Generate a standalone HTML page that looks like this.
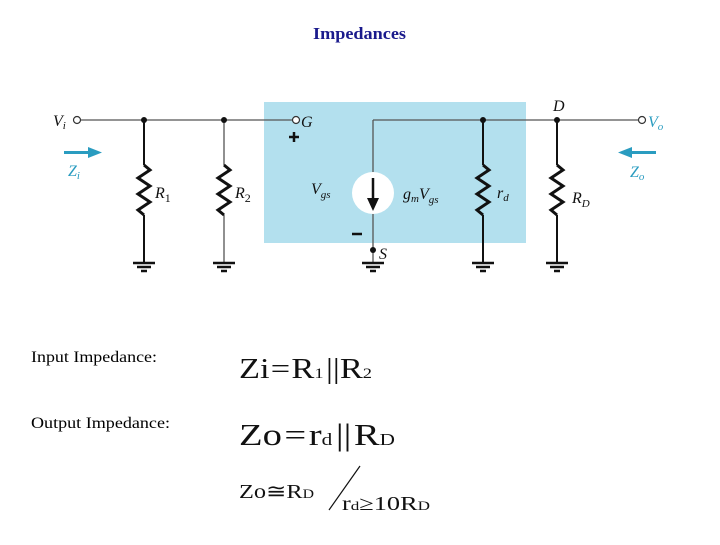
<!DOCTYPE html>
<html><head><style>
body{margin:0;background:#fff;width:720px;height:540px;overflow:hidden;font-family:"Liberation Serif",serif;}
</style></head><body>
<svg width="720" height="540" xmlns="http://www.w3.org/2000/svg" font-family="Liberation Serif, serif">
<text x="313" y="39" font-size="17" font-weight="bold" fill="#1a1a8c" textLength="93" lengthAdjust="spacingAndGlyphs">Impedances</text>
<rect x="264" y="102" width="262" height="141" fill="#b3e0ee"/>
<g stroke="#555" stroke-width="1.3" fill="none">
<line x1="81" y1="120" x2="292" y2="120"/>
<line x1="373" y1="120" x2="638" y2="120"/>
<line x1="373" y1="120" x2="373" y2="173"/>
<line x1="373" y1="213" x2="373" y2="262"/>
<line x1="224" y1="120" x2="224" y2="165"/><line x1="224" y1="215" x2="224" y2="262"/>
</g>
<g stroke="#111" stroke-width="2" fill="none">
<line x1="144" y1="120" x2="144" y2="165"/><line x1="144" y1="215" x2="144" y2="262"/>
<line x1="483" y1="120" x2="483" y2="165"/><line x1="483" y1="215" x2="483" y2="262"/>
<line x1="557" y1="120" x2="557" y2="165"/><line x1="557" y1="215" x2="557" y2="262"/>
<g stroke-width="3">
<polyline points="144,165 150,170 138,178 150,186 138,194 150,202 138,210 144,215"/>
<polyline points="224,165 230,170 218,178 230,186 218,194 230,202 218,210 224,215"/>
<polyline points="483,165 489,170 477,178 489,186 477,194 489,202 477,210 483,215"/>
<polyline points="557,165 563,170 551,178 563,186 551,194 563,202 551,210 557,215"/>
</g>
</g>
<g stroke="#111" stroke-width="2.5">
<g id="gnd"><line x1="133" y1="263" x2="155" y2="263"/><line x1="137" y1="267" x2="151" y2="267"/><line x1="141" y1="271" x2="147" y2="271"/></g>
<use href="#gnd" x="80"/><use href="#gnd" x="229"/><use href="#gnd" x="339"/><use href="#gnd" x="413"/>
</g>
<g fill="#111"><circle cx="144" cy="120" r="3"/><circle cx="224" cy="120" r="3"/><circle cx="483" cy="120" r="3"/><circle cx="557" cy="120" r="3"/><circle cx="373" cy="250" r="3"/></g>
<g fill="#fff" stroke="#333" stroke-width="1.2"><circle cx="77" cy="120" r="3.5"/><circle cx="296" cy="120" r="3.5"/><circle cx="642" cy="120" r="3.5"/></g>
<circle cx="373" cy="193" r="21" fill="#fff"/>
<line x1="373" y1="178" x2="373" y2="200" stroke="#111" stroke-width="2.5"/>
<polygon points="367,198 379,198 373,211" fill="#111"/>
<g stroke="#111" stroke-width="2.5"><line x1="289" y1="137" x2="299" y2="137"/><line x1="294" y1="132" x2="294" y2="142"/><line x1="352" y1="234" x2="362" y2="234"/></g>
<g font-style="italic" font-size="16" fill="#111">
<text x="53" y="126">V<tspan font-size="11" dy="3">i</tspan></text>
<text x="301" y="127">G</text>
<text x="553" y="111">D</text>
<text x="379" y="259">S</text>
<text x="155" y="198">R<tspan font-style="normal" font-size="12" dy="4">1</tspan></text>
<text x="235" y="198">R<tspan font-style="normal" font-size="12" dy="4">2</tspan></text>
<text x="311" y="194">V<tspan font-size="11" dy="4">gs</tspan></text>
<text x="403" y="199">g<tspan font-size="11" dy="3">m</tspan><tspan dy="-3">V</tspan><tspan font-size="11" dy="4">gs</tspan></text>
<text x="497" y="198">r<tspan font-size="11" dy="3">d</tspan></text>
<text x="572" y="203">R<tspan font-size="11" dy="4">D</tspan></text>
</g>
<g fill="#2a9cc0" font-style="italic" font-size="16">
<text x="648" y="127">V<tspan font-size="11" dy="3">o</tspan></text>
<text x="68" y="176">Z<tspan font-size="11" dy="3">i</tspan></text>
<text x="630" y="177">Z<tspan font-size="11" dy="3">o</tspan></text>
</g>
<g fill="#2a9cc0"><rect x="64" y="151" width="25" height="3"/><polygon points="88,147 102,152.5 88,158"/>
<rect x="630" y="151" width="26" height="3"/><polygon points="632,147 618,152.5 632,158"/></g>
<text x="31" y="362" font-size="16" fill="#000" textLength="126" lengthAdjust="spacingAndGlyphs">Input Impedance:</text>
<text x="31" y="428" font-size="16" fill="#000" textLength="139" lengthAdjust="spacingAndGlyphs">Output Impedance:</text>
<g fill="#111">
<text x="239" y="378" font-size="28" textLength="133" lengthAdjust="spacingAndGlyphs">Zi<tspan dx="1">=</tspan><tspan dx="1">R</tspan><tspan font-size="15">1</tspan><tspan dx="2">||</tspan><tspan>R</tspan><tspan font-size="15">2</tspan></text>
<text x="239" y="445" font-size="31" textLength="156" lengthAdjust="spacingAndGlyphs">Zo<tspan dx="2">=</tspan><tspan dx="2">r</tspan><tspan font-size="17">d</tspan><tspan dx="3">||</tspan><tspan dx="2">R</tspan><tspan font-size="17">D</tspan></text>
<text x="239" y="498" font-size="20" textLength="75" lengthAdjust="spacingAndGlyphs">Zo≅R<tspan font-size="13">D</tspan></text>
<text x="342" y="510" font-size="20" textLength="88" lengthAdjust="spacingAndGlyphs">r<tspan font-size="13">d</tspan>≥10R<tspan font-size="13">D</tspan></text>
</g>
<line x1="329" y1="510" x2="360" y2="466" stroke="#111" stroke-width="1.2"/>
</svg>
</body></html>
